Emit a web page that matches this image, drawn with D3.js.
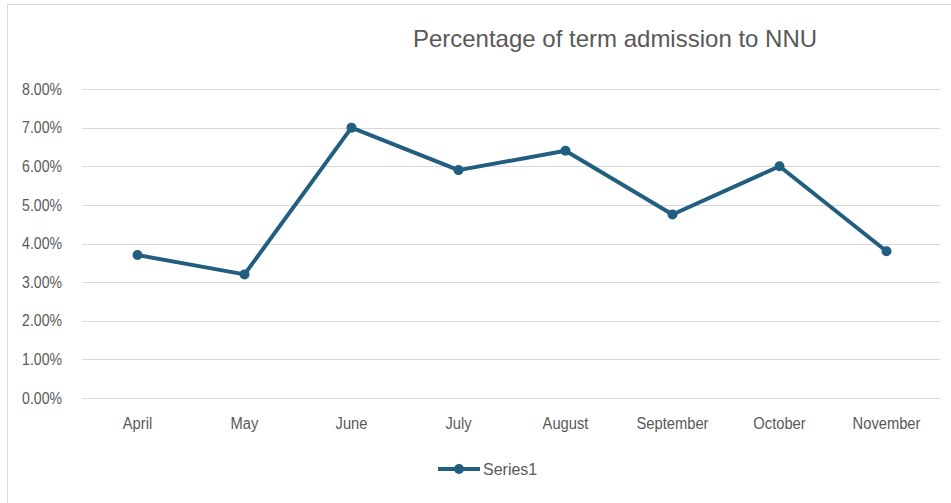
<!DOCTYPE html>
<html>
<head>
<meta charset="utf-8">
<script src="https://cdn.jsdelivr.net/npm/d3@7"></script>
<style>
  html, body { margin: 0; padding: 0; background: #fff; }
  svg { display: block; }
  text { font-family: "Liberation Sans", Arial, sans-serif; fill: #595959; }
</style>
</head>
<body>
<svg id="chart" width="951" height="503"></svg>
<script>
const categories = ["April", "May", "June", "July", "August", "September", "October", "November"];
const series1 = [0.037, 0.032, 0.070, 0.059, 0.064, 0.0475, 0.060, 0.038];
const yTicks = [0, 0.01, 0.02, 0.03, 0.04, 0.05, 0.06, 0.07, 0.08];
const seriesName = "Series1";
const title = "Percentage of term admission to NNU";

const svg = d3.select("#chart");
const color = "#215e7f";

// outer border
svg.append("rect").attr("x", 7.5).attr("y", 4.5).attr("width", 960).attr("height", 520)
  .attr("fill", "none").attr("stroke", "#d9d9d9").attr("stroke-width", 1);

const x = d3.scaleBand().domain(categories).range([84, 940]);
const y = d3.scaleLinear().domain([0, 0.08]).range([398, 89]);

// gridlines
svg.append("g").selectAll("line").data(yTicks).join("line")
  .attr("x1", 82).attr("x2", 940)
  .attr("y1", d => Math.round(y(d)) + 0.5).attr("y2", d => Math.round(y(d)) + 0.5)
  .attr("stroke", "#d9d9d9").attr("stroke-width", 1);

// y axis labels
const yAxis = d3.axisLeft(y).tickValues(yTicks).tickFormat(d3.format(".2%")).tickSize(0).tickPadding(0);
const gy = svg.append("g").attr("transform", "translate(62,0)").call(yAxis);
gy.select(".domain").remove();
gy.selectAll("text").attr("font-size", 16).attr("fill", "#595959")
  .attr("transform", "scale(0.88,1)")
  .style("font-family", '"Liberation Sans", Arial, sans-serif');

// x axis labels
const xAxis = d3.axisBottom(x).tickSize(0).tickPadding(0);
const gx = svg.append("g").attr("transform", "translate(0,418)").call(xAxis);
gx.select(".domain").remove();
gx.selectAll("text").attr("font-size", 16).attr("fill", "#595959")
  .attr("transform", "scale(0.92,1)")
  .style("font-family", '"Liberation Sans", Arial, sans-serif');

// line
const line = d3.line().x((d, i) => x(categories[i]) + x.bandwidth() / 2).y(d => y(d));
svg.append("path").datum(series1).attr("d", line)
  .attr("fill", "none").attr("stroke", color).attr("stroke-width", 4)
  .attr("stroke-linejoin", "round").attr("stroke-linecap", "round");

svg.append("g").selectAll("circle").data(series1).join("circle")
  .attr("cx", (d, i) => x(categories[i]) + x.bandwidth() / 2)
  .attr("cy", d => y(d)).attr("r", 5).attr("fill", color);

// title
svg.append("text").attr("x", 615).attr("y", 47).attr("text-anchor", "middle")
  .attr("font-size", 24).text(title);

// legend
const lg = svg.append("g").attr("transform", "translate(438,469)");
lg.append("line").attr("x1", 0).attr("x2", 42).attr("y1", 0).attr("y2", 0)
  .attr("stroke", color).attr("stroke-width", 4);
lg.append("circle").attr("cx", 21).attr("cy", 0).attr("r", 5).attr("fill", color);
lg.append("text").attr("x", 45).attr("y", 6).attr("font-size", 16).text(seriesName);
</script>
</body>
</html>
